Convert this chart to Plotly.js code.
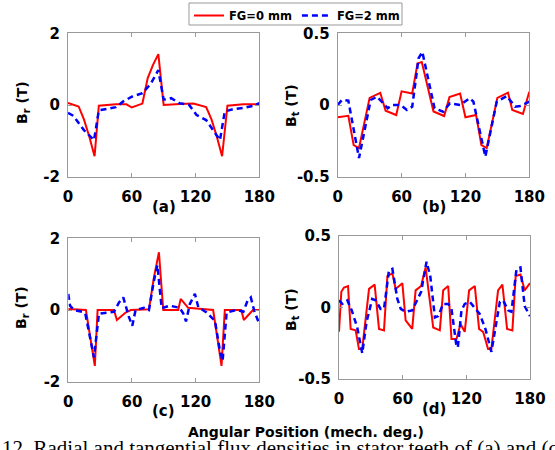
<!DOCTYPE html>
<html>
<head>
<meta charset="utf-8">
<script src="https://cdn.plot.ly/plotly-3.0.1.min.js"></script>
<style>html,body{margin:0;padding:0;background:#fff;}#chart{width:555px;height:450px;}</style>
</head>
<body>
<div id="chart"></div>
<script>
// ---- Data (angular position in mech. deg, flux density in T) ----
const seriesNames = ["FG=0 mm", "FG=2 mm"];
const xTicks = [0, 60, 120, 180];

// (a) radial, panel a
const xa_r = [0, 10, 15, 20, 25, 29, 45, 55, 60, 70, 75, 80, 85, 90, 105, 118, 130, 135, 140, 145, 150, 165, 180];
const ya_r = [0.06, -0.04, -0.4, -0.88, -1.43, -0.02, 0.02, 0.02, -0.07, 0.04, 0.75, 1.12, 1.42, 0.0, 0.03, 0.04, -0.06, -0.4, -0.88, -1.43, -0.02, 0.02, 0.02];
const xa_b = [0, 5, 15, 24.5, 29, 35, 45, 52, 60, 70, 78, 85, 90, 97, 105, 114, 121, 130, 143, 147.5, 155, 165, 175, 180];
const ya_b = [-0.22, -0.3, -0.7, -0.98, -0.15, -0.12, -0.06, 0.1, 0.23, 0.33, 0.6, 0.97, 0.15, 0.19, 0.05, 0.0, -0.28, -0.42, -0.98, -0.18, -0.12, -0.08, -0.02, 0.05];

// (b) tangential, panel b
const xb_r = [0, 10, 15, 20, 30, 40, 45, 55, 60, 70, 75, 79, 90, 100, 105, 115, 120, 130, 135, 140, 150, 160, 164, 174, 180];
const yb_r = [-0.085, -0.075, -0.28, -0.3, 0.05, 0.085, -0.04, -0.07, 0.095, 0.08, 0.29, 0.30, -0.045, -0.077, 0.055, 0.08, -0.086, -0.07, -0.28, -0.3, 0.05, 0.086, -0.035, -0.063, 0.093];
const xb_b = [0, 4, 10, 20, 31, 37, 47, 51, 59, 65, 70, 76, 79.5, 91, 99, 105.5, 115, 124, 127.5, 138.7, 149.4, 158.8, 166.7, 171.4, 180];
const yb_b = [0.0, 0.035, 0.03, -0.37, 0.035, 0.058, -0.023, 0.0, 0.0, -0.035, -0.012, 0.326, 0.37, -0.023, -0.047, 0.012, 0.0, 0.047, 0.023, -0.36, 0.023, 0.063, -0.012, -0.007, 0.023];

// (c) radial, panel c
const xc_r = [0, 16.6, 25, 27.6, 43, 45.8, 54, 59, 76, 80.7, 85.4, 89.5, 103.6, 105.9, 113, 136.5, 144.4, 147.5, 163, 165.4, 174, 180];
const yc_r = [0.03, 0.0, -1.56, 0.0, 0.0, -0.28, -0.07, 0.0, 0.02, 0.91, 1.61, 0.0, 0.0, 0.31, 0.06, 0.0, -1.56, 0.0, 0.0, -0.28, 0.0, 0.0];
const xc_b = [0, 1.6, 5.3, 13, 16, 21, 24.2, 28.9, 43, 47.8, 51.8, 57.2, 60.3, 63.4, 71.2, 76, 80.7, 84, 88, 95.8, 100.5, 105, 108.4, 110.9, 114.6, 119.3, 122.5, 130.3, 138.2, 142.9, 145.4, 149.2, 158.6, 165, 168.9, 172, 175.5, 180];
const yc_b = [0.45, 0.12, 0.0, -0.05, -0.1, -0.86, -1.32, -0.1, -0.05, 0.21, 0.35, -0.2, -0.44, 0.0, 0.06, 0.0, 0.82, 1.25, 0.05, 0.12, 0.08, 0.06, -0.1, -0.32, 0.17, 0.45, 0.08, -0.07, -0.3, -1.14, -1.42, -0.07, 0.0, -0.05, 0.26, 0.35, -0.05, -0.39];

// (d) tangential, panel d
const xd_r = [0, 2.2, 4.7, 8.5, 11, 15.7, 18.8, 21.9, 28.3, 33.6, 37.7, 42.4, 45.6, 50.3, 53.4, 59.7, 62.8, 69, 72.2, 77.4, 81.6, 88.8, 95, 98.2, 102.9, 106, 110.7, 114.5, 118.5, 122.6, 128, 132, 135.8, 140.5, 143.6, 149.9, 154, 158.4, 163.4, 166.5, 171, 175, 180];
const yd_r = [-0.17, 0.11, 0.14, 0.15, -0.15, -0.16, -0.29, -0.29, 0.13, 0.16, -0.15, -0.16, 0.22, 0.24, 0.13, 0.17, -0.09, -0.15, 0.12, 0.15, 0.28, -0.14, -0.16, 0.12, 0.15, -0.22, -0.22, -0.115, -0.17, 0.12, 0.15, -0.15, -0.17, -0.29, -0.29, 0.12, 0.16, -0.15, -0.16, 0.22, 0.23, 0.12, 0.17];
const xd_b = [0, 3.1, 7.8, 12, 17.2, 21.9, 26, 31.3, 34.5, 39.2, 42.4, 47.1, 50.3, 55, 58.2, 62.8, 69, 73.7, 77.4, 82.5, 86, 90.4, 93.5, 98.2, 102.9, 106, 110.7, 112, 115.4, 118.5, 123.2, 132.6, 138, 143.6, 148, 151.6, 154.7, 159.4, 162.5, 167.3, 171, 175, 180];
const yd_b = [0.05, 0.025, 0.05, -0.02, -0.14, -0.32, -0.1, 0.06, 0.05, -0.01, -0.01, 0.26, 0.27, 0.06, -0.01, -0.03, -0.02, 0.05, 0.11, 0.32, 0.22, -0.07, -0.06, 0.025, 0.025, -0.01, -0.27, -0.28, -0.02, 0.025, 0.04, -0.045, -0.15, -0.31, -0.1, 0.04, 0.05, -0.02, -0.03, 0.27, 0.28, 0.01, -0.06];

// ---- Styling ----
const RED = "#ff0000", BLUE = "#0000ff";
const boldFont = (size, color) => ({family: "DejaVu Sans, Arial, sans-serif", size: size, color: color || "#000", weight: 700});

function pair(xr, yr, xb, yb, xa, ya, showLeg) {
  return [
    {x: xr, y: yr, xaxis: xa, yaxis: ya, type: "scatter", mode: "lines", name: seriesNames[0],
     line: {color: RED, width: 2}, showlegend: showLeg},
    {x: xb, y: yb, xaxis: xa, yaxis: ya, type: "scatter", mode: "lines", name: seriesNames[1],
     line: {color: BLUE, width: 2.5, dash: "6px,4px"}, showlegend: showLeg}
  ];
}

const data = [].concat(
  pair(xa_r, ya_r, xa_b, ya_b, "x", "y", true),
  pair(xb_r, yb_r, xb_b, yb_b, "x2", "y2", false),
  pair(xc_r, yc_r, xc_b, yc_b, "x3", "y3", false),
  pair(xd_r, yd_r, xd_b, yd_b, "x4", "y4", false)
);

function xax(domain, anchor) {
  return {domain: domain, anchor: anchor, range: [0, 180], tickvals: xTicks, ticktext: xTicks.map(String),
    ticks: "inside", ticklen: 4, tickcolor: "#999", showline: true, linecolor: "#999", linewidth: 1,
    mirror: "ticks", showgrid: false, zeroline: false, tickfont: boldFont(15), ticklabelstandoff: 6, fixedrange: true};
}
function yax(domain, anchor, lim, tv, tt) {
  return {domain: domain, anchor: anchor, range: [-lim, lim], tickvals: tv, ticktext: tt,
    ticks: "inside", ticklen: 4, tickcolor: "#999", showline: true, linecolor: "#999", linewidth: 1,
    mirror: "ticks", showgrid: false, zeroline: false, tickfont: boldFont(15), ticklabelstandoff: 4, fixedrange: true};
}

const W = 555, H = 450;
const px = v => v / W, py = v => 1 - v / H;

function note(text, x, y, font, extra) {
  return Object.assign({text: text, x: px(x), y: py(y), xref: "paper", yref: "paper",
    xanchor: "center", yanchor: "middle", showarrow: false, font: font}, extra || {});
}

const layout = {
  width: W, height: H,
  margin: {l: 0, r: 0, t: 0, b: 0},
  paper_bgcolor: "#fff", plot_bgcolor: "#fff",
  showlegend: true,
  legend: {orientation: "h", x: px(189), y: py(1), xanchor: "left", yanchor: "top",
    borderwidth: 0, bgcolor: "rgba(0,0,0,0)", font: boldFont(11.5), itemwidth: 30,
    tracegroupgap: 0},
  shapes: [
    {type: "rect", xref: "paper", yref: "paper", x0: px(189), x1: px(402), y0: py(25), y1: py(3),
     line: {color: "#999", width: 1}, fillcolor: "#fff", layer: "below"}
  ],
  xaxis: xax([px(68), px(259.3)], "y"),
  yaxis: yax([py(176.7), py(33.3)], "x", 2, [-2, 0, 2], ["-2", "0", "2"]),
  xaxis2: xax([px(337.7), px(529.3)], "y2"),
  yaxis2: yax([py(176.7), py(33.3)], "x2", 0.5, [-0.5, 0, 0.5], ["-0.5", "0", "0.5"]),
  xaxis3: xax([px(68.3), px(259.3)], "y3"),
  yaxis3: yax([py(381.7), py(238.3)], "x3", 2, [-2, 0, 2], ["-2", "0", "2"]),
  xaxis4: xax([px(339), px(530)], "y4"),
  yaxis4: yax([py(379), py(236)], "x4", 0.5, [-0.5, 0, 0.5], ["-0.5", "0", "0.5"]),
  annotations: [
    note("B<sub>r</sub> (T)", 23, 103, boldFont(14), {textangle: -90}),
    note("B<sub>t</sub> (T)", 292, 106, boldFont(14), {textangle: -90}),
    note("B<sub>r</sub> (T)", 22, 308, boldFont(14), {textangle: -90}),
    note("B<sub>t</sub> (T)", 292, 310, boldFont(14), {textangle: -90}),
    note("(a)", 163.5, 207, boldFont(15)),
    note("(b)", 433.5, 207, boldFont(15)),
    note("(c)", 163.8, 411, boldFont(15)),
    note("(d)", 434, 409, boldFont(15)),
    note("Angular Position (mech. deg.)", 306, 432, boldFont(14)),
    note("12. Radial and tangential flux densities in stator teeth of (a) and (c)", 0, 448,
      {family: "Liberation Serif, Times New Roman, serif", size: 21, color: "#000"}, {xanchor: "left"})
  ]
};

Plotly.newPlot("chart", data, layout, {displayModeBar: false, staticPlot: true});
</script>
</body>
</html>
